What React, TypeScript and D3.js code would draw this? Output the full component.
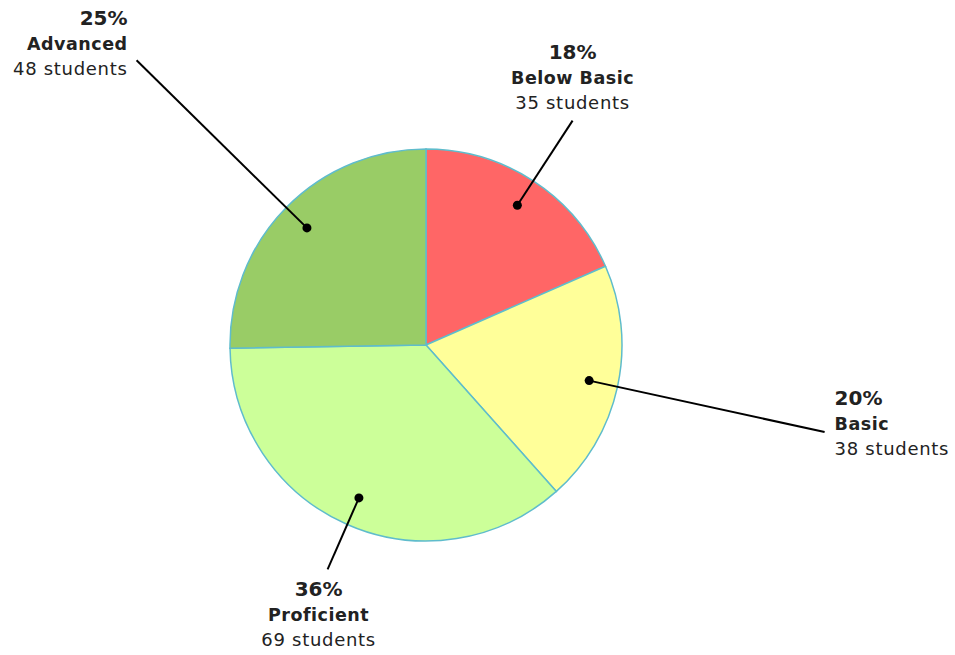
import * as d3 from 'd3'

const categories = ['Below Basic', 'Basic', 'Proficient', 'Advanced']
const students = [35, 38, 69, 48]
const colors = ['#ff6666', '#ffff99', '#ccff99', '#99cc66']

// label placement per slice: leader length, text offset from leader end, anchor
const labelLayout = [
  { leader: 268, dx: 0, dy: -62, anchor: 'middle' },
  { leader: 408, dx: 10, dy: -27, anchor: 'start' },
  { leader: 245, dx: -9, dy: 27, anchor: 'middle' },
  { leader: 406, dx: -9, dy: -35, anchor: 'end' },
]

const width = 955
const height = 655
const cx = 426
const cy = 345
const radius = 196
const dotRadius = 167
const font = '"DejaVu Sans", "Lucida Grande", sans-serif'

export default function App() {
  const total = d3.sum(students)
  const pie = d3
    .pie<number>()
    .sort(null)
    .value((d) => d)
  const arcs = pie(students)
  const arc = d3.arc<d3.PieArcDatum<number>>().innerRadius(0).outerRadius(radius)

  return (
    <svg
      width={width}
      height={height}
      style={{ position: 'fixed', top: 0, left: 0, background: '#fff' }}
    >
      <g transform={`translate(${cx},${cy})`}>
        {arcs.map((a, i) => (
          <path
            key={categories[i]}
            d={arc(a) || ''}
            fill={colors[i]}
            stroke="#5fbccc"
            strokeWidth={1.5}
          />
        ))}
        {arcs.map((a, i) => {
          const mid = (a.startAngle + a.endAngle) / 2
          const sx = Math.sin(mid)
          const sy = -Math.cos(mid)
          const lay = labelLayout[i]
          const ex = sx * lay.leader
          const ey = sy * lay.leader
          const tx = ex + lay.dx
          const ty = ey + lay.dy
          const pct = d3.format('.0%')(students[i] / total)
          return (
            <g key={categories[i]}>
              <line
                x1={sx * dotRadius}
                y1={sy * dotRadius}
                x2={ex}
                y2={ey}
                stroke="#000"
                strokeWidth={2}
              />
              <circle cx={sx * dotRadius} cy={sy * dotRadius} r={4.5} fill="#000" />
              <g fontFamily={font} textAnchor={lay.anchor} fill="#222">
                <text x={tx} y={ty} fontSize={20} fontWeight="bold">
                  {pct}
                </text>
                <text
                  x={tx}
                  y={ty + 25}
                  fontSize={17.5}
                  fontWeight="bold"
                  letterSpacing={0.5}
                >
                  {categories[i]}
                </text>
                <text x={tx} y={ty + 50} fontSize={18} letterSpacing={0.7}>
                  {students[i]} students
                </text>
              </g>
            </g>
          )
        })}
      </g>
    </svg>
  )
}
